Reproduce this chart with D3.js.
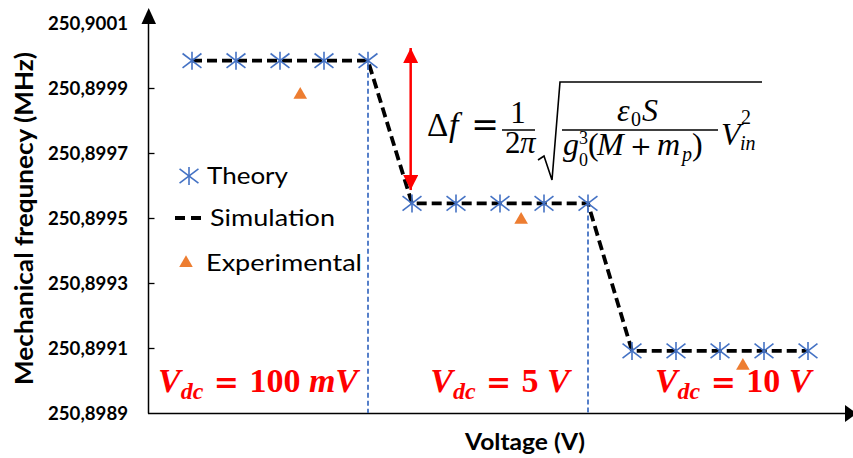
<!DOCTYPE html>
<html><head><meta charset="utf-8">
<script src="https://cdn.jsdelivr.net/npm/d3@7"></script>
<style>body{margin:0;background:#fff}svg{display:block}</style>
</head><body><svg id="c" width="853" height="458"></svg>
<script>
// ---- data ----
const theoryX = [1,2,3,4,5,6,7,8,9,10,11,12,13,14,15];
const theoryY = [250.899984,250.899984,250.899984,250.899984,250.899984,
                 250.899545,250.899545,250.899545,250.899545,250.899545,
                 250.899091,250.899091,250.899091,250.899091,250.899091];
const simulationX = [1,2,3,4,5,6,7,8,9,10,11,12,13,14,15];
const simulationY = [250.899984,250.899984,250.899984,250.899984,250.899984,
                     250.899545,250.899545,250.899545,250.899545,250.899545,
                     250.899091,250.899091,250.899091,250.899091,250.899091];
const experimentalX = [3.46, 8.48, 13.52];
const experimentalY = [250.899879, 250.899494, 250.899045];
const yTicks = [250.8989,250.8991,250.8993,250.8995,250.8997,250.8999,250.9001];
const dividerX = [5, 10];
const dividerY = [250.899984, 250.899545];
const regionLabels = [{x:2.5,num:"100 ",unit:"mV"},{x:8.0,num:"5 ",unit:"V"},{x:13.3,num:"10 ",unit:"V"}];
const legendLabels = ["Theory","Simulation","Experimental"];
const arrowX = 5.97, arrowTop = 250.900023, arrowBottom = 250.899586;

const svg = d3.select("#c");
const x = d3.scaleLinear().domain([0,16]).range([148,852]);
const y = d3.scaleLinear().domain([250.8989,250.9001]).range([413,23]);
const fmt = v => v.toFixed(4).replace(".", ",");
const BLUE="#4472C4", ORANGE="#ED7D31", RED="#FF0000";
const SANS = "Lato, sans-serif";

// defs
const defs = svg.append("defs");
defs.append("marker").attr("id","ah").attr("viewBox","0 0 10 10").attr("refX",10).attr("refY",5)
  .attr("markerWidth",7).attr("markerHeight",6).attr("markerUnits","strokeWidth").attr("orient","auto-start-reverse")
  .append("path").attr("d","M0,0L10,5L0,10Z").attr("fill",RED);

// axes
const yAxis = d3.axisRight(y).tickValues(yTicks.slice(1,-1)).tickSize(6).tickFormat("");
const gy = svg.append("g").attr("transform","translate(148.5,0)").call(yAxis);
gy.select(".domain").remove();
gy.selectAll(".tick line").attr("stroke","#000").attr("stroke-width",1.3);
svg.append("line").attr("x1",148.5).attr("x2",148.5).attr("y1",20).attr("y2",413.5).attr("stroke","#000").attr("stroke-width",1.5);
svg.append("path").attr("d","M141.5,24L156,24L148.7,8Z").attr("fill","#000");
svg.append("line").attr("x1",148).attr("x2",846).attr("y1",413.5).attr("y2",413.5).attr("stroke","#000").attr("stroke-width",1.5);
svg.append("path").attr("d","M845,405L845,422L857,413.5Z").attr("fill","#000");

svg.append("g").selectAll("text").data(yTicks).join("text")
  .attr("x",128).attr("y",d=>y(d)).attr("dy","0.36em").attr("text-anchor","end")
  .attr("font-family",SANS).attr("font-weight","bold").attr("font-size",18.5).attr("fill","#000")
  .attr("textLength",80).attr("lengthAdjust","spacingAndGlyphs")
  .text(fmt);

svg.append("text").attr("transform","translate(33,218.5) rotate(-90)").attr("text-anchor","middle")
  .attr("font-family",SANS).attr("font-weight","bold").attr("font-size",24)
  .attr("textLength",333).attr("lengthAdjust","spacingAndGlyphs").text("Mechanical frequnecy (MHz)");
svg.append("text").attr("x",525).attr("y",450).attr("text-anchor","middle")
  .attr("font-family",SANS).attr("font-weight","bold").attr("font-size",22)
  .attr("textLength",120).attr("lengthAdjust","spacingAndGlyphs").text("Voltage (V)");

// divider dashed lines
svg.append("g").selectAll("line").data(dividerX).join("line")
  .attr("x1",d=>x(d)).attr("x2",d=>x(d)).attr("y1",(d,i)=>y(dividerY[i])+4).attr("y2",y(250.8989))
  .attr("stroke",BLUE).attr("stroke-width",1.8).attr("stroke-dasharray","5,3");

// simulation line
const line = d3.line().x(d=>x(d[0])).y(d=>y(d[1]));
svg.append("path").datum(simulationX.map((v,i)=>[v,simulationY[i]])).attr("d",line)
  .attr("fill","none").attr("stroke","#000").attr("stroke-width",3.8).attr("stroke-dasharray","10,5");

// theory asterisks
function asterisk(g, s){
  g.append("line").attr("x1",0).attr("x2",0).attr("y1",-s).attr("y2",s);
  g.append("line").attr("x1",-s*1.05).attr("x2",s*1.05).attr("y1",-s*0.8).attr("y2",s*0.8);
  g.append("line").attr("x1",-s*1.05).attr("x2",s*1.05).attr("y1",s*0.8).attr("y2",-s*0.8);
}
const gt = svg.append("g").attr("stroke",BLUE).attr("stroke-width",1.6);
theoryX.forEach((v,i)=>{ asterisk(gt.append("g").attr("transform",`translate(${x(v)},${y(theoryY[i])})`), 9); });

// experimental triangles
const tri = d3.symbol().type(d3.symbolTriangle).size(80);
svg.append("g").selectAll("path").data(experimentalX).join("path")
  .attr("transform",(d,i)=>`translate(${x(d)},${y(experimentalY[i])})`).attr("d",tri).attr("fill",ORANGE);

// red double arrow
svg.append("line").attr("x1",x(arrowX)).attr("x2",x(arrowX)).attr("y1",y(arrowTop)).attr("y2",y(arrowBottom))
  .attr("stroke",RED).attr("stroke-width",2.5).attr("marker-start","url(#ah)").attr("marker-end","url(#ah)");

// formula
const F = "Liberation Serif, serif";
const FD = "DejaVu Serif, serif";
const fg = svg.append("g").attr("font-family",F).attr("fill","#000");
function tx(parent,xx,yy,s,size,opt){ const e=parent.append(parent===fg?"text":"tspan").attr("x",xx).attr("y",yy).attr("font-size",size).text(s);
  if(opt&&opt.it) e.attr("font-style","italic"); if(opt&&opt.mid) e.attr("text-anchor","middle"); if(opt&&opt.f) e.attr("font-family",opt.f); return e; }
let T = fg.append("text");
tx(T,427,136,"Δ",33); tx(T,449,136,"f",34,{it:1});
tx(fg,485,136,"=",33,{mid:1,f:FD});
tx(fg,518,123,"1",31,{mid:1});
fg.append("line").attr("x1",502).attr("x2",535).attr("y1",130).attr("y2",130).attr("stroke","#000").attr("stroke-width",1.6);
T = fg.append("text"); tx(T,505,153,"2",31); tx(T,520,153,"π",31,{it:1});
fg.append("path").attr("d","M538,160L544,156L552,180L560,82L762,82").attr("fill","none").attr("stroke","#000").attr("stroke-width",1.6);
T = fg.append("text"); tx(T,617,121,"ε",32,{it:1}); tx(T,631,126,"0",20); tx(T,642,121,"S",32,{it:1});
fg.append("line").attr("x1",562).attr("x2",718).attr("y1",130).attr("y2",130).attr("stroke","#000").attr("stroke-width",1.6);
T = fg.append("text");
tx(T,563,155,"g",32,{it:1});
tx(fg,579,144,"3",18);
T = fg.append("text");
tx(T,579,166,"0",18);
T = fg.append("text");
tx(T,588,155,"(",32); tx(T,597,155,"M",32,{it:1}); tx(T,630,155,"+",26,{f:FD});
tx(T,657,155,"m",32,{it:1}); tx(T,682,161,"p",20,{it:1}); tx(T,692,155,")",32);
T = fg.append("text");
tx(T,721,145,"V",32,{it:1}); tx(T,741,124,"2",20); tx(T,740,150,"in",20,{it:1});

// region labels
const rl = svg.append("g").selectAll("text").data(regionLabels).join("text")
  .attr("x",d=>x(d.x)).attr("y",392).attr("text-anchor","middle")
  .attr("font-family",F).attr("font-weight","bold").attr("font-size",34).attr("fill",RED);
rl.each(function(d){
  const s = d3.select(this);
  s.append("tspan").attr("font-style","italic").text("V");
  s.append("tspan").attr("font-style","italic").attr("font-size",24).attr("dy",7).text("dc");
  s.append("tspan").attr("dy",-7).attr("font-family",FD).attr("font-size",30).text(" = ");
  s.append("tspan").text(d.num);
  s.append("tspan").attr("font-style","italic").text(d.unit);
});

// legend
const lg = svg.append("g").attr("font-family",SANS).attr("font-size",23).attr("fill","#000");
asterisk(lg.append("g").attr("stroke",BLUE).attr("stroke-width",1.6).attr("transform","translate(189,176)"), 9);
lg.append("line").attr("x1",175).attr("x2",202).attr("y1",218).attr("y2",218).attr("stroke","#000").attr("stroke-width",3.8).attr("stroke-dasharray","10,6");
lg.append("path").attr("transform","translate(186,263)").attr("d",tri).attr("fill",ORANGE);
const legPos = [[207,184,81],[210,226,125],[206,271,156]];
lg.selectAll("text").data(legendLabels).join("text")
  .attr("x",(d,i)=>legPos[i][0]).attr("y",(d,i)=>legPos[i][1])
  .attr("textLength",(d,i)=>legPos[i][2]).attr("lengthAdjust","spacingAndGlyphs").text(d=>d);
</script></body></html>
